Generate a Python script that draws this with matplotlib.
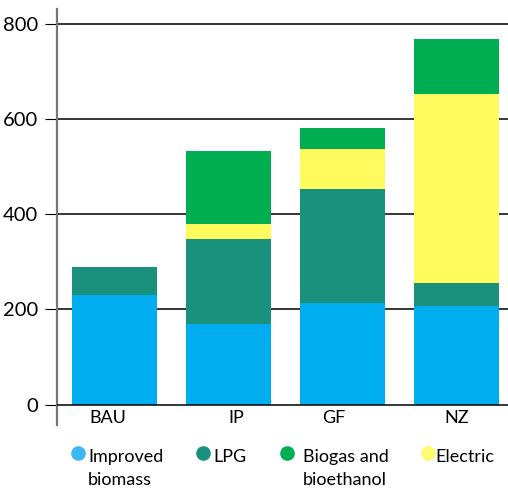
import matplotlib
matplotlib.use("Agg")
import matplotlib.pyplot as plt
from matplotlib.lines import Line2D

categories = ["BAU", "IP", "GF", "NZ"]
improved_biomass = [230, 169, 213, 207]
lpg = [59, 178, 239, 48]
electric = [0, 32, 85, 398]
biogas = [0, 153, 44, 115]
yticks = [0, 200, 400, 600, 800]

labels = ["Improved\nbiomass", "LPG", "Biogas and\nbioethanol", "Electric"]
legend_colors = ["#3DB7F2", "#1A917C", "#00AE52", "#FFFB6E"]

plt.rcParams['font.family'] = ['Lato', 'DejaVu Sans']

fig = plt.figure(figsize=(5.08, 4.93), dpi=100)
ax = fig.add_axes([56.7/508, 1-425/493, 1-56.7/508, (425-9.3)/493])

x = list(range(len(categories)))
w = 0.745
b1 = improved_biomass
b2 = [a + b for a, b in zip(b1, lpg)]
b3 = [a + b for a, b in zip(b2, electric)]
ax.bar(x, improved_biomass, w, color="#00AEEF", zorder=3)
ax.bar(x, lpg, w, bottom=b1, color="#1A917C", zorder=3)
ax.bar(x, electric, w, bottom=b2, color="#FFFB5E", zorder=3)
ax.bar(x, biogas, w, bottom=b3, color="#00AE52", zorder=3)

ax.set_xlim(-0.505, 3.45)
ax.set_ylim(-43, 830)
ax.set_yticks(yticks)
ax.set_yticklabels([str(v) for v in yticks], fontsize=14.5)
ax.tick_params(axis='y', length=8.6, width=0.8, color='black', pad=5)
for v in yticks:
    ax.axhline(v, color='black', lw=1.1, zorder=2 if v else 4)

ax.set_xticks([])
offsets = [-0.06, 0.07, -0.08, 0.0]
for xi, c, o in zip(x, categories, offsets):
    ax.text(xi + o, -12, c, ha='center', va='top', fontsize=13)

for s in ["top", "right", "bottom"]:
    ax.spines[s].set_visible(False)
ax.spines["left"].set_color("#777777")
ax.spines["left"].set_linewidth(1.6)

mx = [78, 203, 287, 428]
tx = [88, 213, 303, 435]
for m, t, lab, col in zip(mx, tx, labels, legend_colors):
    fig.add_artist(Line2D([m/508], [1-453/493], marker='o', markersize=9.5,
                          color=col, transform=fig.transFigure, linestyle='none'))
    fig.text(t/508, 1-449/493, lab, ha='left', va='top', fontsize=13,
             linespacing=1.55)

fig.savefig("out.png", dpi=100)
